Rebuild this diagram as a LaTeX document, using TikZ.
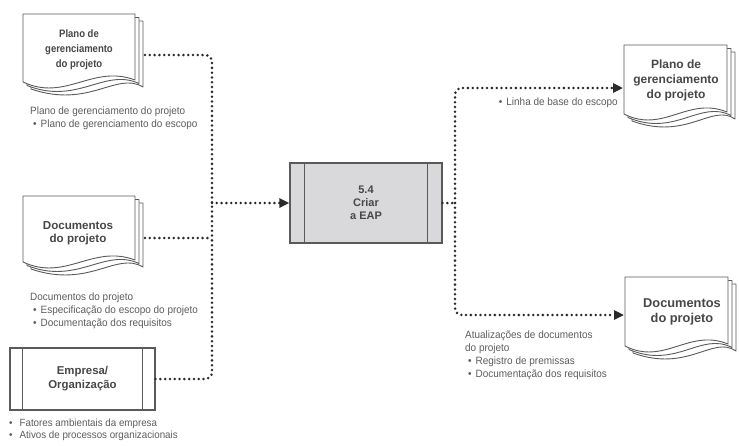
\documentclass[tikz,border=0pt]{standalone}
\usepackage{fontspec}
\setmainfont{Liberation Sans}
\newfontfamily\labelfont[FakeStretch=0.94]{Liberation Sans}
\newfontfamily\narrowfont[FakeStretch=0.88]{Liberation Sans}
\usetikzlibrary{arrows.meta,calc}
\definecolor{edge}{HTML}{5A5A5A}
\definecolor{dotc}{HTML}{2A2A2A}
\definecolor{txt}{HTML}{474747}
\definecolor{lbl}{HTML}{5C5C5C}
\definecolor{procfill}{HTML}{D9D9DB}
\newcommand\docsheet[4]{%
  \filldraw[sheet] (#1,#2) -- (#3,#2) -- (#3,#4-2)
    .. controls (#1+0.62*#3-0.62*#1,#4-18) and (#1+0.38*#3-0.38*#1,#4+20) .. (#1,#4) -- cycle;}
\newcommand\docstack[4]{%
  \docsheet{#1+8}{#2+7}{#3+8}{#4+7}%
  \docsheet{#1+4}{#2+3.5}{#3+4}{#4+3.5}%
  \docsheet{#1}{#2}{#3}{#4}}
\newcommand\bul{\hspace*{3pt}\textbullet\hspace{4pt}}
\tikzset{
  sheet/.style={draw=edge, fill=white, line width=0.9pt, line join=round},
  box/.style={draw=edge, line width=1.1pt},
  title/.style={text=txt, align=center, inner sep=0pt},
  lab/.style={font=\labelfont\fontsize{10.6}{12.9}\selectfont, text=lbl, align=left, inner sep=0pt, anchor=north west},
  flow/.style={draw=dotc, line width=2.8pt, line cap=round, dash pattern=on 0pt off 4.8pt, rounded corners=7pt},
  tip/.style={-{Triangle[length=10pt,width=9pt]}},
}
\begin{document}
\begin{tikzpicture}[x=1pt,y=-1pt]
\useasboundingbox (0,0) rectangle (739,445);
% documents
\docstack{23}{14}{135}{82}
\node[title, font=\narrowfont\fontsize{10.8}{15}\selectfont\bfseries] (docA) at (79,50) {Plano de\\gerenciamento\\do projeto};
\docstack{23}{196}{135}{262}
\node[title, font=\fontsize{11.6}{13.5}\selectfont\bfseries] (docB) at (78,233) {Documentos\\do projeto};
\docstack{624}{45}{727}{114}
\node[title, font=\fontsize{12}{15}\selectfont\bfseries] (docC) at (676,80) {Plano de\\gerenciamento\\do projeto};
\docstack{625}{277}{728}{346}
\node[title, font=\fontsize{12.8}{14.5}\selectfont\bfseries] (docD) at (682,312) {Documentos\\do projeto};
% process box
\node[box, fill=procfill, minimum width=152, minimum height=80, title, font=\fontsize{11}{13}\selectfont\bfseries] (proc) at (366,203) {5.4\\Criar\\a EAP};
\draw[box] ($(proc.north west)+(15,0)$) -- ($(proc.south west)+(15,0)$);
\draw[box] ($(proc.north east)+(-15,0)$) -- ($(proc.south east)+(-15,0)$);
% enterprise box
\node[box, fill=white, minimum width=145, minimum height=62, title, font=\fontsize{11.4}{14}\selectfont\bfseries] (emp) at (82.5,379) {Empresa/\\Organização};
\draw[box] ($(emp.north west)+(13,0)$) -- ($(emp.south west)+(13,0)$);
\draw[box] ($(emp.north east)+(-13,0)$) -- ($(emp.south east)+(-13,0)$);
% connector points
\coordinate (Aout) at (145,55);
\coordinate (Bout) at (145,238);
\coordinate (Bend) at (212,238);
\coordinate (J) at (212,203);
\coordinate (K) at (455,203);
\coordinate (Cin) at (623,88);
\coordinate (Din) at (624,315);
% connectors
\draw[flow] (Aout) -| (J);
\draw[flow] (emp.east) -| (J);
\draw[flow] (Bout) -- (Bend);
\draw[flow,tip] (J) -- (proc.west);
\draw[flow] (proc.east) -- (K);
\draw[flow,tip] (K) |- (Cin);
\draw[flow,tip] (K) |- (Din);
% labels
\node[lab] (labA) at (30,107) {Plano de gerenciamento do projeto\\\bul Plano de gerenciamento do escopo};
\node[lab] (labB) at (30,293) {Documentos do projeto\\\bul Especificação do escopo do projeto\\\bul Documentação dos requisitos};
\node[lab, font=\labelfont\fontsize{10.4}{12.2}\selectfont] (labE) at (9,419) {\textbullet\hspace{7pt}Fatores ambientais da empresa\\\textbullet\hspace{7pt}Ativos de processos organizacionais};
\node[lab, anchor=north east] (labC) at (618,98) {\textbullet\hspace{4pt}Linha de base do escopo};
\node[lab] (labD) at (465,331) {Atualizações de documentos\\do projeto\\\bul Registro de premissas\\\bul Documentação dos requisitos};
\end{tikzpicture}
\end{document}
